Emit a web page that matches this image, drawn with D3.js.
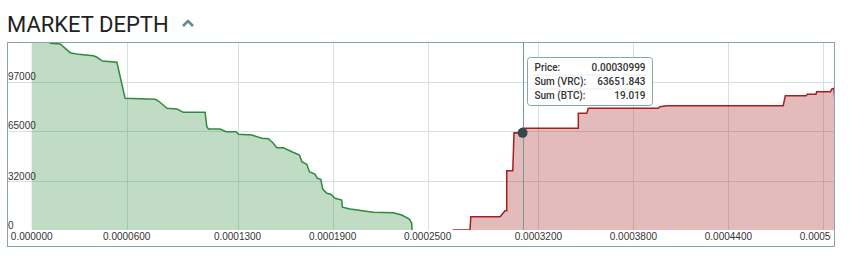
<!DOCTYPE html>
<html>
<head>
    <meta charset="UTF-8">
    <title>Market Depth</title>
    <script src="https://d3js.org/d3.v7.min.js"></script>
    <style>
        body { margin: 0; background: #ffffff; }
        .title { font-family: Roboto, sans-serif; font-size: 22px; fill: #222222; }
        .axis-label { font-family: "Liberation Sans", Arial, sans-serif; font-size: 10px; fill: #333333; }
        .tip { font-family: Roboto, sans-serif; font-size: 10px; font-weight: 500; fill: #333333; }
    </style>
</head>
<body>
<svg width="850" height="267" id="mainsvg"></svg>
<script>
    // data: price / cumulative volume
    const bidPrices = [0, 0.0000114, 0.0000117, 0.0000180, 0.0000243, 0.0000295, 0.0000390, 0.0000412, 0.0000447,
        0.0000538, 0.0000590, 0.0000780, 0.0000801, 0.0000854, 0.0000917, 0.0000958, 0.0001095, 0.0001106,
        0.0001116, 0.0001190, 0.0001228, 0.0001291, 0.0001306, 0.0001390, 0.0001453, 0.0001495, 0.0001523,
        0.0001548, 0.0001590, 0.0001643, 0.0001691, 0.0001706, 0.0001737, 0.0001754, 0.0001790, 0.0001804,
        0.0001826, 0.0001838, 0.0001864, 0.0001889, 0.0001916, 0.0001958, 0.0001962, 0.0002011, 0.0002158,
        0.0002284, 0.0002337, 0.0002385, 0.0002400, 0.0002402, 0.0002403];
    const bidDepth = [135000, 135000, 122350, 121900, 116200, 115100, 114200, 113200, 110700,
        109900, 86300, 85650, 84500, 79750, 79300, 77100, 77100, 67700,
        66200, 66200, 64400, 64400, 62700, 62250, 60100, 59800, 57200,
        53900, 53900, 51300, 49150, 44750, 43050, 38200, 36500, 33900,
        33200, 26850, 24050, 23400, 20750, 19650, 14900, 13750, 11600,
        11350, 9850, 7200, 4400, 450, 0];

    const askPrices = [0.0002659, 0.0002768, 0.0002773, 0.0002958, 0.0002989, 0.0003000, 0.0003000, 0.0003038,
        0.0003046, 0.00030999, 0.0003101, 0.0003452, 0.0003452, 0.0003505, 0.0003515, 0.0003957, 0.0003967,
        0.0004010, 0.0004746, 0.0004759, 0.0004890, 0.0004898, 0.0004953, 0.0004957, 0.0005045, 0.0005052,
        0.0005066, 0.0005085];
    const askDepth = [0, 0, 8700, 8700, 12650, 12650, 38850, 38850,
        63760, 63651.843, 66650, 66650, 76500, 76500, 79750, 79750, 80800,
        81450, 81450, 88000, 88000, 88950, 88950, 90650, 90650, 92400,
        92850, 70000];

    const xTickValues = [0, 0.00006, 0.00013, 0.00019, 0.00025, 0.00032, 0.00038, 0.00044, 0.0005];
    const xTickLabels = ['0.000000', '0.0000600', '0.0001300', '0.0001900', '0.0002500', '0.0003200',
        '0.0003800', '0.0004400', '0.0005000'];
    const yTickValues = [0, 32000, 65000, 97000];
    const yTickLabels = ['0', '32000', '65000', '97000'];

    const hoverPrice = 0.00030999;
    const hoverSum = 63651.843;
    const tipRows = [['Price:', '0.00030999'], ['Sum (VRC):', '63651.843'], ['Sum (BTC):', '19.019']];

    const svg = d3.select('#mainsvg');
    const plot = {left: 7, right: 835, top: 42, bottom: 230, axisBottom: 247};
    const frameColor = '#88a6a6';
    const gridColor = '#d6e1e1';

    const bids = bidPrices.map((p, i) => ({price: p, sum: bidDepth[i]}));
    const asks = askPrices.map((p, i) => ({price: p, sum: askDepth[i]}));

    const xScale = d3.scaleLinear()
        .domain([-0.0000156, 0.0005073])
        .range([plot.left, plot.right]);
    const yScale = d3.scaleLinear()
        .domain([0, 123200])
        .range([plot.bottom, plot.top]);

    // title
    svg.append('text').attr('class', 'title')
        .attr('x', 7).attr('y', 31.5)
        .text('MARKET DEPTH');
    svg.append('path')
        .attr('d', 'M183,26 L188,21 L193,26')
        .attr('fill', 'none')
        .attr('stroke', '#5f8d8d')
        .attr('stroke-width', 2.6);

    // grid
    const grid = svg.append('g');
    grid.selectAll('.vgrid').data(xTickValues.slice(1))
        .join('line').attr('class', 'vgrid')
        .attr('x1', d => Math.round(xScale(d)) + 0.5).attr('x2', d => Math.round(xScale(d)) + 0.5)
        .attr('y1', plot.top).attr('y2', plot.bottom)
        .attr('stroke', gridColor);
    grid.selectAll('.hgrid').data(yTickValues.slice(1))
        .join('line').attr('class', 'hgrid')
        .attr('x1', plot.left).attr('x2', plot.right)
        .attr('y1', d => Math.round(yScale(d)) + 0.5).attr('y2', d => Math.round(yScale(d)) + 0.5)
        .attr('stroke', gridColor);

    svg.append('clipPath').attr('id', 'plotClip')
        .append('rect')
        .attr('x', plot.left).attr('y', plot.top)
        .attr('width', plot.right - plot.left).attr('height', plot.bottom - plot.top);

    const area = d3.area()
        .x(d => xScale(d.price))
        .y0(yScale(0))
        .y1(d => yScale(d.sum));
    const line = d3.line()
        .x(d => xScale(d.price))
        .y(d => yScale(d.sum));

    const chart = svg.append('g').attr('clip-path', 'url(#plotClip)');
    chart.append('path').datum(bids).attr('d', area)
        .attr('fill', '#2e8b3e').attr('fill-opacity', 0.3);
    chart.append('path').datum(bids).attr('d', line)
        .attr('fill', 'none').attr('stroke', '#2e8b3e').attr('stroke-width', 1.5);
    chart.append('path').datum(asks).attr('d', area)
        .attr('fill', '#a61e1e').attr('fill-opacity', 0.3);
    chart.append('path').datum(asks).attr('d', line)
        .attr('fill', 'none').attr('stroke', '#a61e1e').attr('stroke-width', 1.5);

    // y labels sit just above their grid lines
    svg.selectAll('.ylab').data(yTickValues)
        .join('text').attr('class', 'axis-label ylab')
        .attr('x', 8).attr('y', d => yScale(d) - 1.5)
        .text((d, i) => yTickLabels[i]);

    // x labels below the plot
    svg.append('clipPath').attr('id', 'axisClip')
        .append('rect')
        .attr('x', plot.left).attr('y', plot.bottom)
        .attr('width', plot.right - plot.left - 4).attr('height', plot.axisBottom - plot.bottom);
    svg.append('g').attr('clip-path', 'url(#axisClip)')
        .selectAll('text').data(xTickValues)
        .join('text').attr('class', 'axis-label')
        .attr('x', d => xScale(d)).attr('y', 240)
        .attr('text-anchor', 'middle')
        .text((d, i) => xTickLabels[i]);

    // frame
    svg.append('rect')
        .attr('x', plot.left + 0.5).attr('y', plot.top + 0.5)
        .attr('width', plot.right - plot.left - 1).attr('height', plot.axisBottom - plot.top - 1)
        .attr('fill', 'none').attr('stroke', frameColor);

    // crosshair + tooltip
    const hx = xScale(hoverPrice), hy = yScale(hoverSum);
    svg.append('line')
        .attr('x1', Math.round(hx) + 0.5).attr('x2', Math.round(hx) + 0.5)
        .attr('y1', plot.top).attr('y2', plot.bottom)
        .attr('stroke', '#6f9b9b');
    svg.append('circle').attr('cx', hx).attr('cy', hy).attr('r', 5)
        .attr('fill', '#37474f');

    const tip = svg.append('g').attr('transform', 'translate(527.5,57.5)');
    tip.append('rect').attr('width', 125).attr('height', 48).attr('rx', 3)
        .attr('fill', '#ffffff').attr('stroke', frameColor);
    tip.selectAll('.sep').data([0, 1]).join('line').attr('class', 'sep')
        .attr('x1', 6).attr('x2', 119)
        .attr('y1', d => 17.5 + d * 14).attr('y2', d => 17.5 + d * 14)
        .attr('stroke', '#e6eded');
    tip.selectAll('.tkey').data(tipRows).join('text').attr('class', 'tip tkey')
        .attr('x', 7).attr('y', (d, i) => 13 + i * 14)
        .text(d => d[0]);
    tip.selectAll('.tval').data(tipRows).join('text').attr('class', 'tip tval')
        .attr('x', 118).attr('y', (d, i) => 13 + i * 14)
        .attr('text-anchor', 'end')
        .text(d => d[1]);
</script>
</body>
</html>
